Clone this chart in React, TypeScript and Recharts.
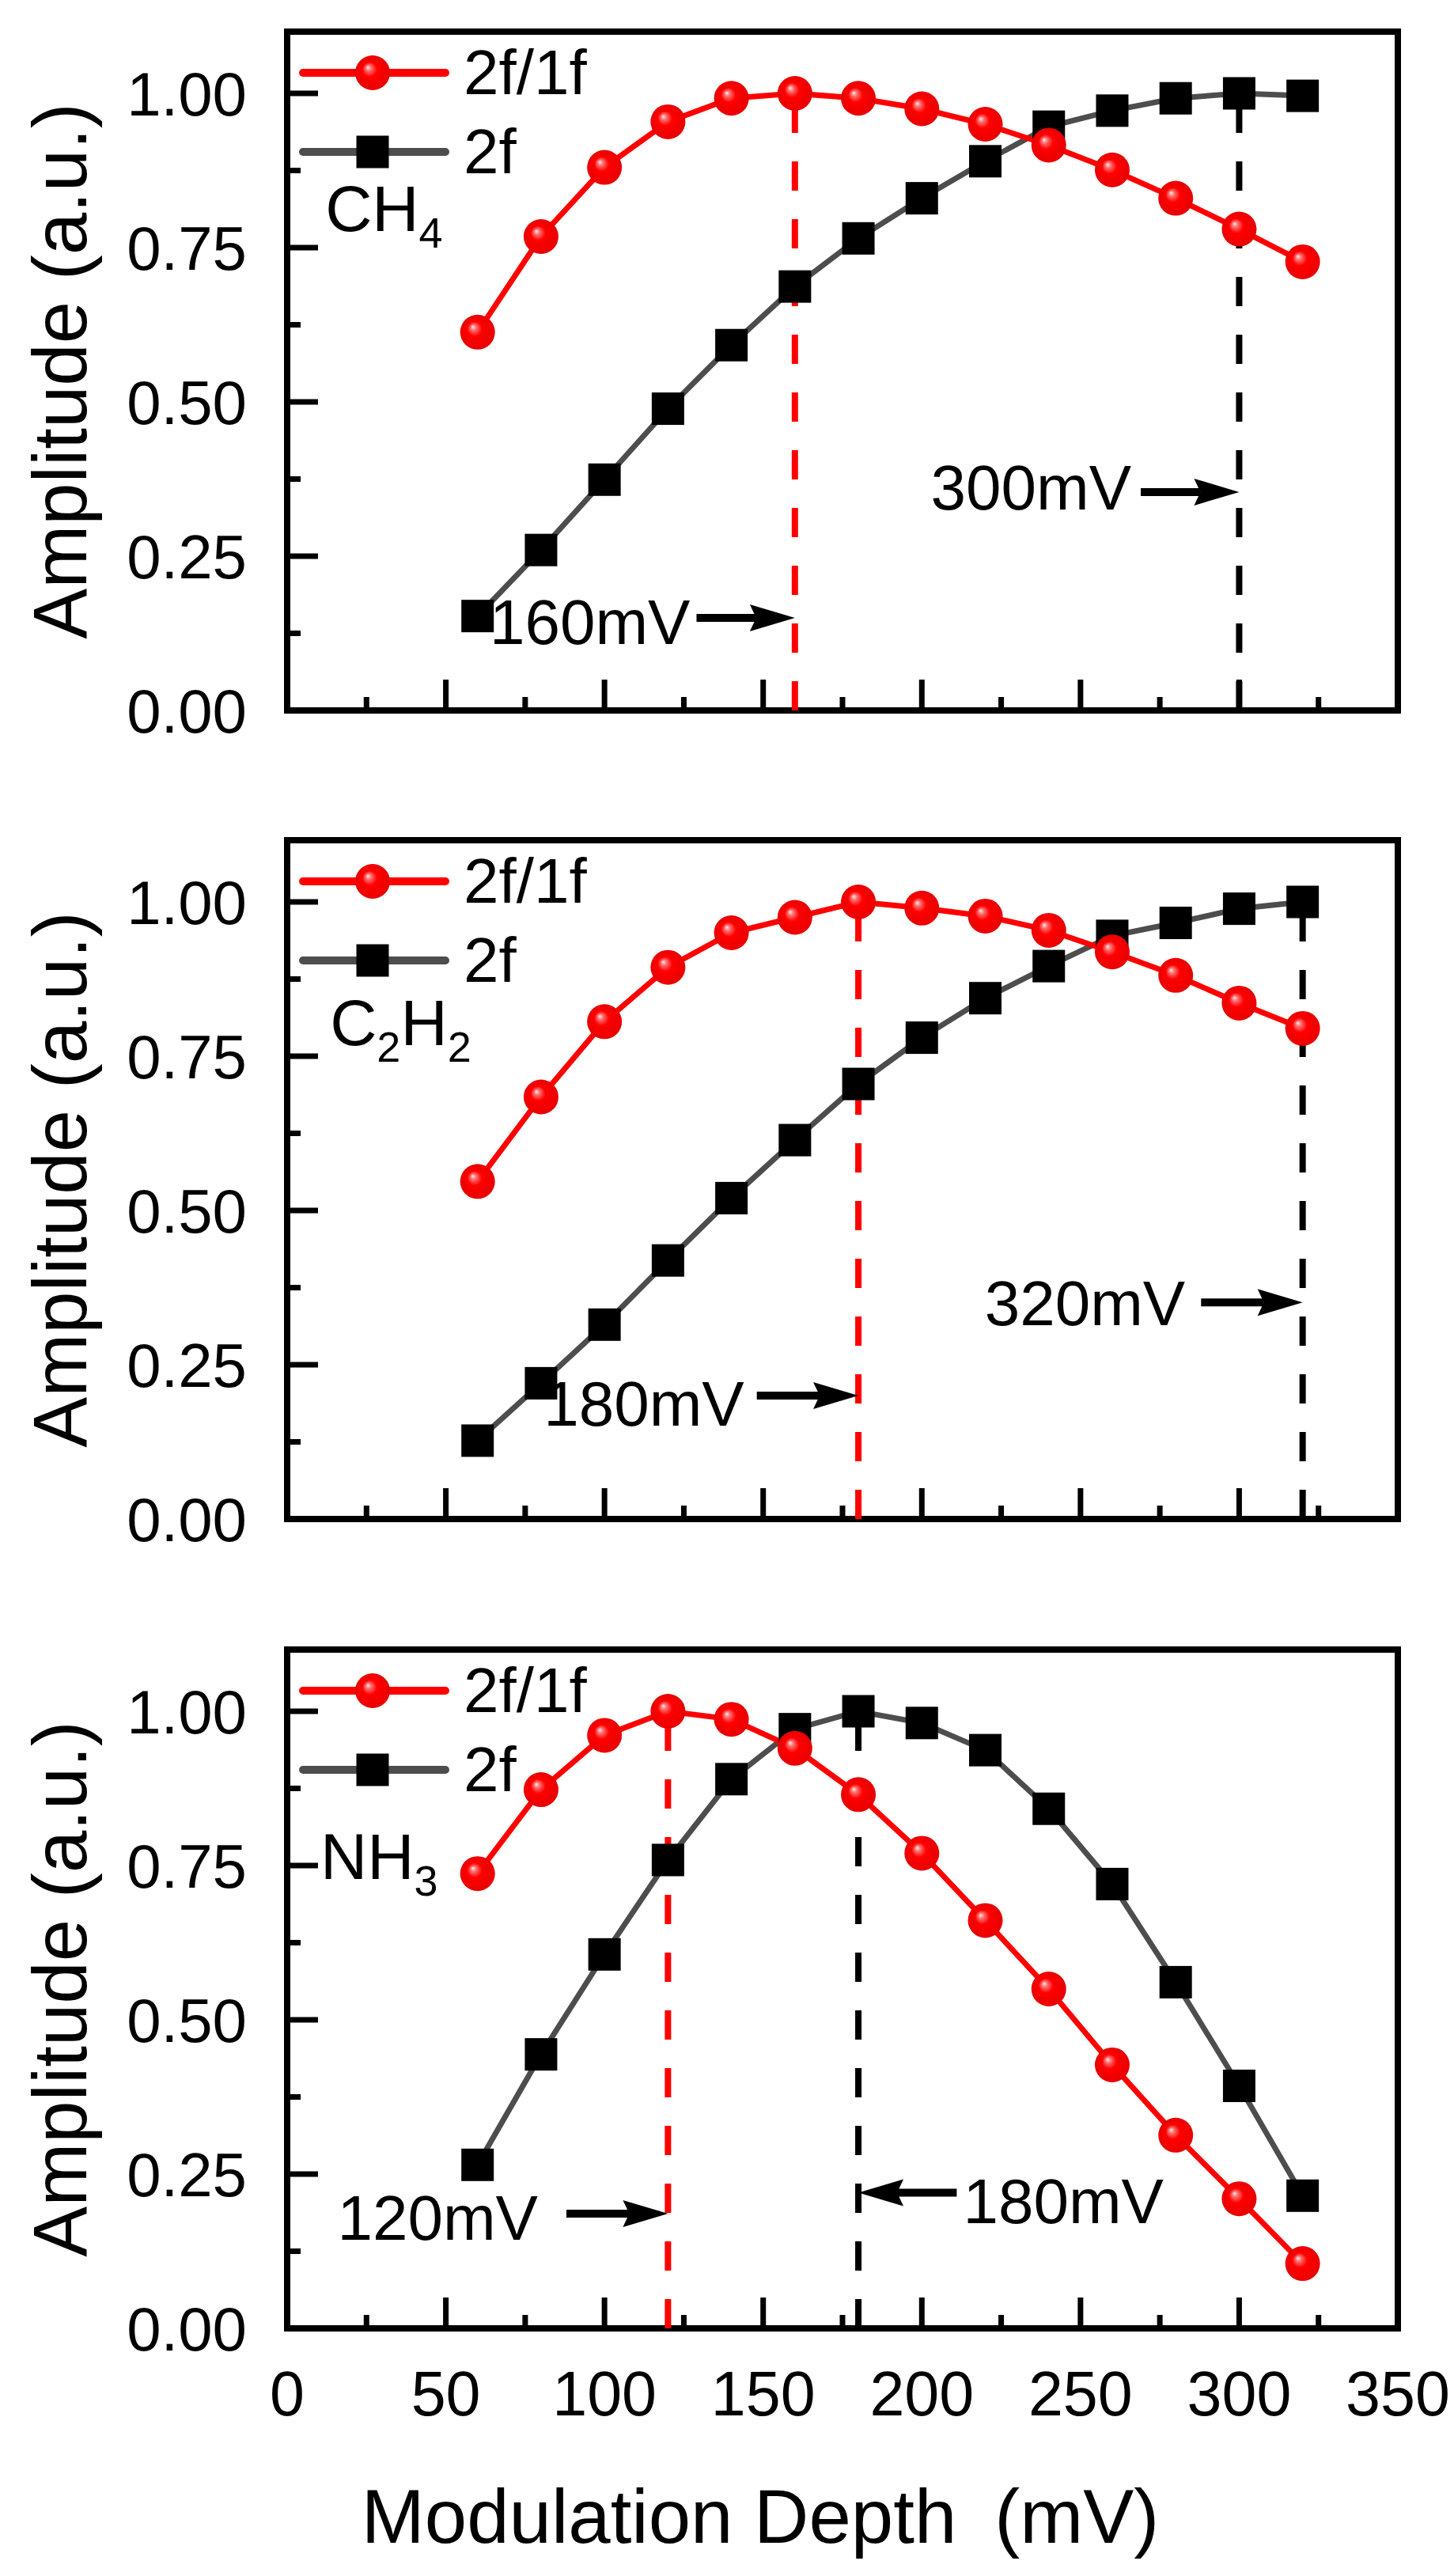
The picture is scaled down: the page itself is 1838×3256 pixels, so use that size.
import React from "react";
import {
  Legend,
  Line,
  LineChart,
  ReferenceArea,
  ReferenceDot,
  ReferenceLine,
  XAxis,
  YAxis
} from "recharts";

const FONT = "Arial, 'Liberation Sans', sans-serif";

// modulation depth (mV) shared by every panel
const modulationDepth = [60, 80, 100, 120, 140, 160, 180, 200, 220, 240, 260, 280, 300, 320];

const ch4Ratio = [0.613, 0.768, 0.88, 0.954, 0.992, 1.0, 0.992, 0.975, 0.95, 0.916, 0.876, 0.83, 0.78, 0.727];
const ch4Second = [0.153, 0.26, 0.374, 0.489, 0.592, 0.687, 0.765, 0.83, 0.89, 0.946, 0.972, 0.992, 1.0, 0.996];

const c2h2Ratio = [0.547, 0.684, 0.806, 0.894, 0.95, 0.975, 1.0, 0.99, 0.977, 0.954, 0.919, 0.881, 0.836, 0.795];
const c2h2Second = [0.127, 0.22, 0.315, 0.419, 0.52, 0.614, 0.705, 0.78, 0.844, 0.896, 0.945, 0.966, 0.989, 1.0];

const nh3Ratio = [0.737, 0.873, 0.961, 1.0, 0.987, 0.94, 0.865, 0.77, 0.661, 0.55, 0.427, 0.313, 0.21, 0.105];
const nh3Second = [0.265, 0.444, 0.606, 0.759, 0.89, 0.971, 1.0, 0.981, 0.937, 0.842, 0.72, 0.561, 0.393, 0.215];

const xTicks = [0, 25, 50, 75, 100, 125, 150, 175, 200, 225, 250, 275, 300, 325, 350];
const xLabelledTicks = [0, 50, 100, 150, 200, 250, 300, 350];
const yTicks = [0, 0.125, 0.25, 0.375, 0.5, 0.625, 0.75, 0.875, 1.0];
const yLabelledTicks = [0, 0.25, 0.5, 0.75, 1.0];

// dashed guides: x position and the amplitude they rise to
const ch4Guides = [
  { x: 160, top: 1.0, kind: "ratio" },
  { x: 300, top: 1.0, kind: "second" }
];
const c2h2Guides = [
  { x: 180, top: 1.0, kind: "ratio" },
  { x: 320, top: 1.0, kind: "second" }
];
const nh3Guides = [
  { x: 120, top: 1.0, kind: "ratio" },
  { x: 180, top: 1.0, kind: "second" }
];

// arrows: text anchor (data coords) and shaft from -> to at height y
const ch4Arrows = [
  { label: "160mV", textX: 127, textY: 0.145, from: 129, to: 160, y: 0.15 },
  { label: "300mV", textX: 266, textY: 0.362, from: 269, to: 300, y: 0.354 }
];
const c2h2Arrows = [
  { label: "180mV", textX: 144, textY: 0.188, from: 148, to: 180, y: 0.2 },
  { label: "320mV", textX: 283, textY: 0.351, from: 288, to: 320, y: 0.351 }
];
const nh3Arrows = [
  { label: "120mV", textX: 79, textY: 0.18, from: 88, to: 120, y: 0.186 },
  { label: "180mV", textX: 213, textY: 0.207, from: 211, to: 180, y: 0.22 }
];

const ch4Name = [{ text: "CH" }, { text: "4", sub: true }];
const c2h2Name = [{ text: "C" }, { text: "2", sub: true }, { text: "H" }, { text: "2", sub: true }];
const nh3Name = [{ text: "NH" }, { text: "3", sub: true }];

const SERIES = [
  { key: "ratio", name: "2f/1f", stroke: "#ff0000", marker: "ball" },
  { key: "second", name: "2f", stroke: "#4d4d4d", marker: "square" }
] as const;

type Panel = {
  id: string;
  top: number;
  height: number;
  ratio: number[];
  second: number[];
  guides: { x: number; top: number; kind: string }[];
  arrows: { label: string; textX: number; textY: number; from: number; to: number; y: number }[];
  name: { text: string; sub?: boolean }[];
  nameAt: { x: number; y: number };
  showXLabels: boolean;
};

const PANELS: Panel[] = [
  { id: "ch4", top: 0, height: 1000, ratio: ch4Ratio, second: ch4Second, guides: ch4Guides, arrows: ch4Arrows, name: ch4Name, nameAt: { x: 12, y: 0.814 }, showXLabels: false },
  { id: "c2h2", top: 1022, height: 1000, ratio: c2h2Ratio, second: c2h2Second, guides: c2h2Guides, arrows: c2h2Arrows, name: c2h2Name, nameAt: { x: 13.5, y: 0.805 }, showXLabels: false },
  { id: "nh3", top: 2045, height: 1211, ratio: nh3Ratio, second: nh3Second, guides: nh3Guides, arrows: nh3Arrows, name: nh3Name, nameAt: { x: 10.5, y: 0.766 }, showXLabels: true }
];

const PLOT_HEIGHT = 858;
const X_AXIS_HEIGHT = 30;

function Ball({ cx, cy, gradient, r = 22 }: { cx: number; cy: number; gradient: string; r?: number }) {
  return <circle cx={cx} cy={cy} r={r} fill={`url(#${gradient})`} />;
}

function Square({ cx, cy, size = 41 }: { cx: number; cy: number; size?: number }) {
  return <rect x={cx - size / 2} y={cy - size / 2} width={size} height={size} fill="#000" />;
}

function makeXTick(showLabels: boolean) {
  return (props: any) => {
    const { x, y, payload } = props;
    const value = payload.value as number;
    const major = xLabelledTicks.includes(value);
    return (
      <g>
        <line x1={x} x2={x} y1={y} y2={y - (major ? 39 : 17)} stroke="#000" strokeWidth={7} />
        {showLabels && major ? (
          <text x={x} y={y + 110} textAnchor="middle" fontSize={79} fontFamily={FONT} fill="#000">
            {value}
          </text>
        ) : null}
      </g>
    );
  };
}

function YTick(props: any) {
  const { x, y, payload } = props;
  const value = payload.value as number;
  const major = yLabelledTicks.includes(value);
  return (
    <g>
      <line x1={x} x2={x + (major ? 39 : 17)} y1={y} y2={y} stroke="#000" strokeWidth={7} />
      {major ? (
        <text x={x - 51} y={y} dy="0.36em" textAnchor="end" fontSize={78} fontFamily={FONT} fill="#000">
          {value.toFixed(2)}
        </text>
      ) : null}
    </g>
  );
}

function ArrowShape(props: any) {
  const { x1, y1, x2, y2 } = props;
  const dir = x2 >= x1 ? 1 : -1;
  const headLength = 57;
  const headHalf = 17;
  const bx = x2 - dir * headLength;
  return (
    <g>
      <line x1={x1} y1={y1} x2={bx + dir * 8} y2={y2} stroke="#000" strokeWidth={10} />
      <polygon
        points={`${x2},${y2} ${bx},${y2 - headHalf} ${bx + dir * 8},${y2} ${bx},${y2 + headHalf}`}
        fill="#000"
      />
    </g>
  );
}

function arrowText(label: string, anchor: "start" | "end") {
  return (props: any) => (
    <text
      x={props.cx}
      y={props.cy}
      dy="0.36em"
      textAnchor={anchor}
      fontSize={80}
      fontFamily={FONT}
      fill="#000"
    >
      {label}
    </text>
  );
}

function gasName(parts: { text: string; sub?: boolean }[]) {
  return (props: any) => {
    let shifted = false;
    return (
      <text x={props.cx} y={props.cy + 29} fontSize={82} fontFamily={FONT} fill="#000">
        {parts.map((part, index) => {
          let dy = 0;
          if (part.sub && !shifted) {
            dy = 21;
            shifted = true;
          } else if (!part.sub && shifted) {
            dy = -21;
            shifted = false;
          }
          return (
            <tspan key={index} dy={dy} fontSize={part.sub ? 54 : 82}>
              {part.text}
            </tspan>
          );
        })}
      </text>
    );
  };
}

function legendContent(gradient: string) {
  return () => (
    <div style={{ display: "flex", flexDirection: "column" }}>
      {SERIES.map((series) => (
        <div key={series.key} style={{ display: "flex", alignItems: "center", height: 100 }}>
          <svg width={190} height={100}>
            <line x1={5} x2={185} y1={50} y2={50} stroke={series.stroke} strokeWidth={10} strokeLinecap="round" />
            {series.marker === "ball" ? <Ball cx={93} cy={50} gradient={gradient} /> : <Square cx={93} cy={50} />}
          </svg>
          <span style={{ marginLeft: 18, fontSize: 80, fontFamily: FONT, lineHeight: "100px", color: "#000" }}>
            {series.name}
          </span>
        </div>
      ))}
    </div>
  );
}

function AmplitudePanel({ panel }: { panel: Panel }) {
  const data = modulationDepth.map((x, index) => ({
    x,
    ratio: panel.ratio[index],
    second: panel.second[index]
  }));
  const gradient = `ball-${panel.id}`;
  const bottomMargin = panel.height - 40 - PLOT_HEIGHT - X_AXIS_HEIGHT;

  return (
    <div style={{ position: "absolute", left: 0, top: panel.top }}>
      <LineChart
        width={1838}
        height={panel.height}
        data={data}
        margin={{ top: 40, right: 71, bottom: bottomMargin, left: 0 }}
      >
        <defs>
          <radialGradient id={gradient} cx="50%" cy="50%" r="50%" fx="36%" fy="34%">
            <stop offset="0%" stopColor="#fff0f0" />
            <stop offset="16%" stopColor="#ff7070" />
            <stop offset="42%" stopColor="#ff0000" />
            <stop offset="100%" stopColor="#e80000" />
          </radialGradient>
        </defs>
        <XAxis
          dataKey="x"
          type="number"
          domain={[0, 350]}
          ticks={xTicks}
          interval={0}
          height={X_AXIS_HEIGHT}
          tickSize={0}
          tickMargin={0}
          axisLine={false}
          tickLine={false}
          tick={makeXTick(panel.showXLabels)}
        />
        <YAxis
          type="number"
          domain={[0, 1.1]}
          ticks={yTicks}
          interval={0}
          width={363}
          tickSize={0}
          tickMargin={0}
          axisLine={false}
          tickLine={false}
          tick={YTick}
          label={{
            value: "Amplitude (a.u.)",
            angle: -90,
            position: "insideLeft",
            offset: 75,
            style: { textAnchor: "middle", fontSize: 96, fontFamily: FONT, fill: "#000" }
          }}
        />
        <ReferenceArea x1={0} x2={350} y1={0} y2={1.1} fill="none" fillOpacity={0} stroke="#000" strokeWidth={8} />
        <Line
          dataKey="second"
          stroke="#4d4d4d"
          strokeWidth={7}
          isAnimationActive={false}
          activeDot={false}
          dot={(p: any) => <Square key={`sq-${p.index}`} cx={p.cx} cy={p.cy} />}
        />
        <Line
          dataKey="ratio"
          stroke="#ff0000"
          strokeWidth={7}
          isAnimationActive={false}
          activeDot={false}
          dot={(p: any) => <Ball key={`ball-${p.index}`} cx={p.cx} cy={p.cy} gradient={gradient} />}
        />
        {panel.guides.map((guide) => (
          <ReferenceLine
            key={`guide-${guide.x}`}
            segment={[
              { x: guide.x, y: 0 },
              { x: guide.x, y: guide.top }
            ]}
            stroke={guide.kind === "ratio" ? "#ff0000" : "#000"}
            strokeWidth={8}
            strokeDasharray="37 36"
          />
        ))}
        {panel.arrows.map((arrow) => (
          <ReferenceLine
            key={`arrow-${arrow.label}`}
            segment={[
              { x: arrow.from, y: arrow.y },
              { x: arrow.to, y: arrow.y }
            ]}
            stroke="#000"
            strokeWidth={10}
            shape={ArrowShape}
          />
        ))}
        {panel.arrows.map((arrow) => (
          <ReferenceDot
            key={`text-${arrow.label}`}
            x={arrow.textX}
            y={arrow.textY}
            r={1}
            shape={arrowText(arrow.label, arrow.to > arrow.from ? "end" : "start")}
          />
        ))}
        <ReferenceDot x={panel.nameAt.x} y={panel.nameAt.y} r={1} shape={gasName(panel.name)} />
        <Legend
          layout="horizontal"
          align="center"
          verticalAlign="middle"
          wrapperStyle={{ left: 378, top: 42, width: "auto" }}
          content={legendContent(gradient)}
        />
      </LineChart>
    </div>
  );
}

export default function App() {
  return (
    <div
      style={{
        position: "absolute",
        left: 0,
        top: 0,
        width: 1838,
        height: 3256,
        background: "#fff",
        overflow: "hidden"
      }}
    >
      {PANELS.map((panel) => (
        <AmplitudePanel key={panel.id} panel={panel} />
      ))}
      <div
        style={{
          position: "absolute",
          left: 961,
          top: 3133,
          transform: "translateX(-50%)",
          fontSize: 96,
          lineHeight: "96px",
          fontFamily: FONT,
          whiteSpace: "nowrap",
          color: "#000"
        }}
      >
        Modulation Depth{"\u2002"}(mV)
      </div>
    </div>
  );
}
